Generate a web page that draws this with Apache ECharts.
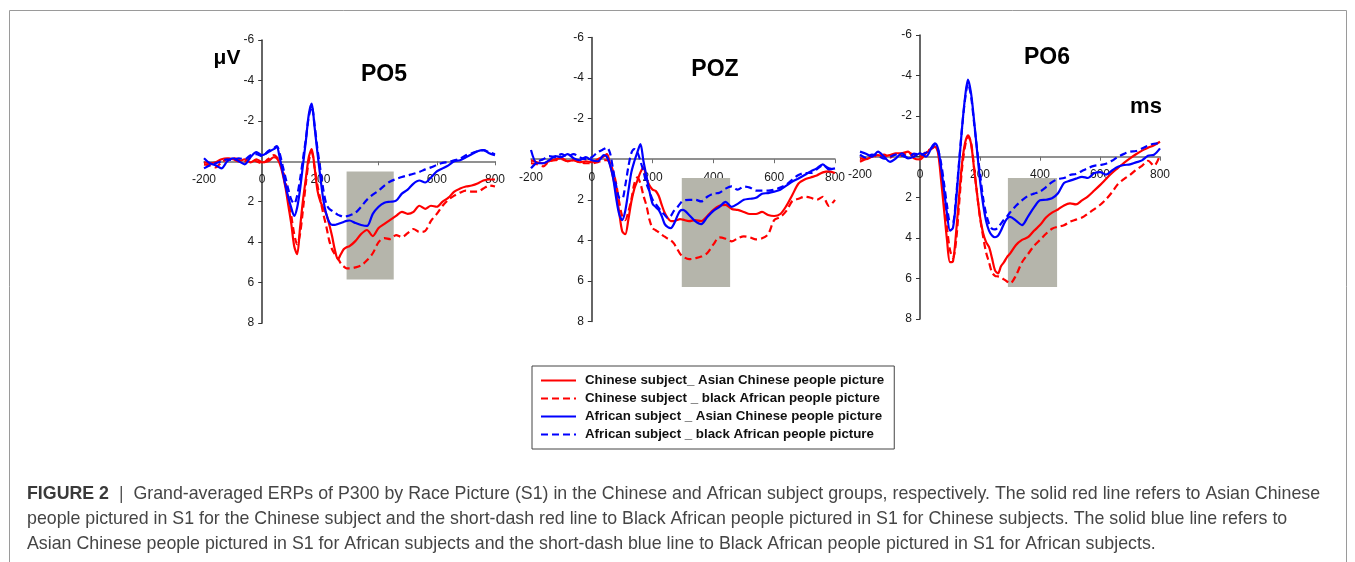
<!DOCTYPE html>
<html>
<head>
<meta charset="utf-8">
<script src="https://cdn.jsdelivr.net/npm/echarts@6.0.0/dist/echarts.min.js"></script>
<style>
html,body{margin:0;padding:0;background:#fff;}
#chart{width:1355px;height:562px;}
</style>
</head>
<body>
<div id="chart"></div>
<script>
// ---------- data ----------
const timeMs = [-200,-180,-160,-140,-120,-100,-80,-60,-40,-20,0,20,40,
  50,60,70,80,90,100,110,120,130,140,150,160,170,180,190,200,210,220,230,240,250,260,270,280,290,300,
  320,340,360,380,400,420,440,460,480,500,520,540,560,580,600,620,640,660,680,700,720,740,760,780,800];

const panelTitles = ['PO5', 'POZ', 'PO6'];
const legendNames = [
  'Chinese subject_ Asian Chinese people picture',
  'Chinese subject _ black African people picture',
  'African subject _ Asian Chinese people picture',
  'African subject _ black African people picture'
];

// PO5
const po5CnAsian = [0.05,0.1,0.05,-0.1,-0.15,-0.1,0,-0.1,0.05,-0.1,0.05,0,-0.2,
  -0.15,0.1,0.6,1.3,2.2,3.1,4.2,4.6,3.3,1.95,0.85,-0.2,-0.6,0.3,1.45,2.0,2.3,2.6,3.1,3.7,4.4,4.85,4.6,4.35,4.25,4.2,
  3.95,3.6,3.4,3.7,3.3,3.1,2.9,2.7,2.5,2.6,2.5,2.2,2.35,2.2,2.25,2.0,1.8,1.5,1.35,1.25,1.2,1.1,0.95,0.9,0.9];
const po5CnAfrican = [0.15,0.2,0.3,0.05,-0.1,-0.15,-0.1,0,-0.15,0,0.1,-0.1,-0.3,
  -0.2,0.0,0.4,1.0,1.8,2.7,3.6,4.1,3.6,2.4,1.1,0.0,-0.45,0.3,1.2,1.9,2.6,3.2,3.9,4.35,4.6,4.8,5.05,5.2,5.3,5.3,
  5.25,5.15,4.9,4.55,4.0,3.8,3.85,3.65,3.75,3.55,3.35,3.5,3.45,2.95,2.6,2.2,1.9,1.7,1.55,1.45,1.5,1.5,1.35,1.2,1.25];
const po5AfAsian = [-0.15,0.1,0.2,0.35,0,-0.15,0,0.15,-0.2,-0.45,-0.3,-0.45,-0.6,
  -0.7,-0.2,0.5,1.2,1.8,2.3,2.7,2.3,1.4,0.2,-1.0,-2.3,-2.85,-1.7,-0.4,0.8,1.9,2.6,3.0,3.15,3.15,3.1,3.05,3.0,2.95,2.93,
  3.05,3.15,3.2,2.6,2.25,2.05,2.0,1.95,1.6,1.4,1.1,0.95,1.05,0.8,0.5,0.35,0.2,0,-0.05,-0.2,-0.35,-0.5,-0.55,-0.4,-0.3];
const po5AfAfrican = [0.35,0.2,0.1,0,-0.1,-0.05,-0.15,-0.1,-0.3,-0.35,-0.25,-0.5,-0.65,
  -0.75,-0.4,0.2,0.8,1.4,1.9,2.1,1.7,0.9,-0.1,-1.1,-2.2,-2.7,-1.8,-0.6,0.4,1.4,2.1,2.35,2.45,2.55,2.65,2.7,2.75,2.72,2.68,
  2.55,2.25,1.9,1.65,1.45,1.2,1.0,0.88,0.78,0.7,0.62,0.53,0.4,0.3,0.18,0.08,0.03,-0.05,-0.12,-0.3,-0.4,-0.5,-0.55,-0.45,-0.35];

// POZ
const pozCnAsian = [0.05,0.15,0.2,0.1,0,-0.05,0.1,0.05,0.15,0.1,0.15,0,-0.15,
  -0.25,0.25,0.9,1.6,2.6,3.55,3.7,3.0,2.1,1.45,1.05,0.65,0.4,0.95,1.3,1.5,1.56,1.8,2.25,2.65,2.9,3.05,3.05,3.0,2.95,2.98,
  3.05,3.0,3.05,2.8,2.5,2.3,2.25,2.45,2.5,2.6,2.7,2.7,2.6,2.75,2.8,2.7,2.3,1.75,1.2,1.0,0.9,0.8,0.65,0.6,0.68];
const pozCnAfrican = [0.2,0.25,0.35,0.1,0.05,0,0.1,0.05,0.15,0.2,0.2,0.15,0.05,
  0.05,0.2,0.6,1.2,2.1,2.8,3.0,2.6,2.0,1.2,0.9,1.2,1.8,2.3,3.0,3.4,3.5,3.6,3.72,3.82,3.92,4.0,4.15,4.4,4.65,4.8,
  4.93,4.88,4.8,4.62,4.2,3.85,3.92,4.05,3.9,3.8,3.85,3.95,3.9,3.7,3.0,2.85,2.55,2.05,1.95,1.85,1.9,2.0,1.85,2.3,2.0];
const pozAfAsian = [-0.45,0.2,0.2,0.05,-0.15,-0.1,-0.25,-0.05,0.05,-0.1,0.05,0.1,-0.2,
  -0.1,0.3,0.9,1.9,2.7,3.0,2.55,1.6,0.65,0.1,-0.35,-0.75,0.1,0.85,1.6,2.2,2.35,2.5,2.8,3.2,3.35,3.4,3.2,2.85,2.55,2.5,
  2.75,3.05,3.2,2.85,2.55,2.35,2.1,2.35,2.2,2.0,1.95,1.9,1.7,1.67,1.6,1.5,1.3,1.1,0.95,0.78,0.6,0.45,0.25,0.5,0.45];
const pozAfAfrican = [0.45,0.15,0,-0.15,-0.1,-0.25,-0.15,-0.25,-0.1,0,-0.1,-0.35,-0.5,
  -0.57,-0.3,0.5,1.3,1.9,1.95,1.3,0.4,-0.3,-0.5,-0.35,0.1,0.6,1.2,1.6,2.0,2.2,2.4,2.6,2.75,2.9,2.8,2.55,2.4,2.2,2.05,
  2.0,2.0,2.08,1.85,1.7,1.65,1.45,1.34,1.5,1.35,1.4,1.55,1.55,1.55,1.5,1.4,1.25,1.0,0.78,0.68,0.68,0.5,0.3,0.45,0.5];

// PO6
const po6CnAsian = [0.08,0.12,0,-0.08,-0.03,-0.08,-0.17,-0.17,-0.25,0.08,0.13,-0.17,-0.41,
  -0.5,-0.2,1.1,2.6,4.1,5.2,5.15,3.8,2.0,0.35,-0.66,-1.05,-0.65,0.55,1.8,2.95,3.75,4.2,4.45,5.0,5.6,5.75,5.4,5.2,4.95,4.78,
  4.35,4.1,3.97,3.65,3.37,3.0,2.76,2.6,2.4,2.3,2.35,2.15,1.95,1.68,1.4,1.1,0.8,0.55,0.3,0.08,-0.12,-0.3,-0.44,-0.57,-0.74];
const po6CnAfrican = [0.25,0.1,-0.08,0,-0.1,0.05,-0.15,-0.05,-0.2,-0.1,0,-0.25,-0.41,
  -0.5,-0.3,0.6,2.0,3.5,4.6,5.0,4.2,2.4,0.6,-0.5,-1.0,-0.7,0.5,1.8,3.0,3.9,4.7,5.2,5.7,5.87,5.9,5.95,6.05,6.15,6.25,
  5.85,5.2,4.8,4.4,4.1,3.8,3.55,3.45,3.38,3.2,3.1,3.0,2.8,2.6,2.38,2.1,1.75,1.35,1.1,0.9,0.65,0.45,0.2,0.45,-0.08];
const po6AfAsian = [-0.25,-0.15,0,-0.25,0,0.25,0.08,-0.17,0.08,0,-0.17,0,-0.5,
  -0.66,-0.4,0.5,1.65,2.8,3.64,3.5,2.2,0.4,-1.4,-2.9,-3.8,-3.15,-1.82,-0.33,1.16,2.31,3.14,3.64,3.88,3.97,3.9,3.64,3.3,3.06,2.97,
  3.15,3.37,2.95,2.5,2.15,2.12,2.05,1.8,1.3,1.18,1.08,0.99,1.05,0.82,0.76,0.88,0.68,0.5,0.41,0.38,0.28,0.18,-0.05,-0.1,-0.41];
const po6AfAfrican = [-0.1,0.05,-0.1,-0.05,0.1,0,-0.1,-0.05,0.05,-0.15,-0.1,-0.2,-0.45,
  -0.6,-0.35,0.3,1.3,2.4,3.2,3.2,2.0,0.3,-1.4,-2.8,-3.6,-3.0,-1.7,-0.4,0.83,2.0,2.8,3.3,3.55,3.58,3.5,3.3,3.1,2.95,2.75,
  2.42,2.15,1.93,1.82,1.72,1.5,1.25,1.1,1.05,0.9,0.85,0.7,0.56,0.45,0.41,0.35,0.2,0,-0.14,-0.25,-0.28,-0.4,-0.55,-0.64,-0.66];

// shaded P300 windows per panel: [startMs, endMs], [topUv, bottomUv]
const shadeMs = [[290, 452], [296, 455], [293, 457]];
const shadeUv = [[0.5, 5.85], [0.93, 6.3], [1.05, 6.42]];

const captionLines = [
  'Grand-averaged ERPs of P300 by Race Picture (S1) in the Chinese and African subject groups, respectively. The solid red line refers to Asian Chinese',
  'people pictured in S1 for the Chinese subject and the short-dash red line to Black African people pictured in S1 for Chinese subjects. The solid blue line refers to',
  'Asian Chinese people pictured in S1 for African subjects and the short-dash blue line to Black African people pictured in S1 for African subjects.'
];

// ---------- chart ----------
const panelData = [
  [po5CnAsian, po5CnAfrican, po5AfAsian, po5AfAfrican],
  [pozCnAsian, pozCnAfrican, pozAfAsian, pozAfAfrican],
  [po6CnAsian, po6CnAfrican, po6AfAsian, po6AfAfrican]
];
const lineColors = ['#ff0000', '#ff0000', '#0000ff', '#0000ff'];
const lineTypes = ['solid', [7, 4], 'solid', [7, 4]];

const grids = [
  {left: 204, top: 40, width: 291, height: 283},
  {left: 531, top: 37.5, width: 304, height: 284},
  {left: 860, top: 35, width: 300, height: 284}
];
const titlePos = [[384, 75], [715, 70], [1047, 58]];

const FONT = 'Arial, "Liberation Sans", sans-serif';

function makeXAxes(offsets) {
  return grids.map((g, i) => ({
    type: 'value', gridIndex: i, min: -200, max: 800, interval: 200, position: 'bottom',
    offset: offsets ? offsets[i] : 0,
    axisLine: {show: true, onZero: false, lineStyle: {color: '#6e6e6e', width: 1.5}},
    axisTick: {show: true, length: 4, lineStyle: {color: '#6e6e6e', width: 1}},
    axisLabel: {margin: 12, fontSize: 12, color: '#1a1a1a', fontFamily: FONT, showMinLabel: true, showMaxLabel: true},
    splitLine: {show: false}
  }));
}
function makeYAxes(offsets) {
  return grids.map((g, i) => ({
    type: 'value', gridIndex: i, inverse: true, min: -6, max: 8, interval: 2, position: 'left',
    offset: offsets ? offsets[i] : 0,
    axisLine: {show: true, onZero: false, lineStyle: {color: '#333', width: 1.5}},
    axisTick: {show: true, length: 4, lineStyle: {color: '#333', width: 1}},
    axisLabel: {margin: 8, fontSize: 12, color: '#1a1a1a', fontFamily: FONT,
      formatter: v => (v === 0 ? '' : String(v))},
    splitLine: {show: false}
  }));
}

const series = [];
panelData.forEach((arrs, p) => {
  series.push({
    type: 'line', name: 'window' + p, xAxisIndex: p, yAxisIndex: p, data: [], z: 1,
    silent: true,
    markArea: {
      silent: true,
      itemStyle: {color: '#b5b5ab', opacity: 1},
      data: [[{xAxis: shadeMs[p][0], yAxis: shadeUv[p][0]}, {xAxis: shadeMs[p][1], yAxis: shadeUv[p][1]}]]
    }
  });
  arrs.forEach((arr, k) => {
    series.push({
      type: 'line', name: legendNames[k], xAxisIndex: p, yAxisIndex: p,
      data: timeMs.map((t, i) => [t, arr[i]]),
      symbol: 'none', showSymbol: false, smooth: 0.3, z: 3 + k,
      lineStyle: {color: lineColors[k], width: 2.2, type: lineTypes[k]},
      itemStyle: {color: lineColors[k]}
    });
  });
});

function centered(t, font) {
  return {text: t, font: font, fill: '#000', align: 'center', verticalAlign: 'middle', textAlign: 'center', textVerticalAlign: 'middle'};
}
const graphics = [
  {type: 'rect', silent: true, shape: {x: 9.5, y: 10.5, width: 1337, height: 600},
   style: {fill: 'none', stroke: '#9a9a9a', lineWidth: 1}},
  {type: 'text', x: 227, y: 58, silent: true, style: centered('μV', 'bold 21px ' + FONT)},
  {type: 'text', x: 1146, y: 107, silent: true, style: centered('ms', 'bold 22px ' + FONT)}
];
panelTitles.forEach((t, i) => {
  graphics.push({type: 'text', x: titlePos[i][0], y: titlePos[i][1], silent: true, style: centered(t, 'bold 23px ' + FONT)});
});
const capY = [494, 519, 544];
const capFont = '17.8px ' + FONT;
captionLines.forEach((line, i) => {
  const txt = i === 0 ? '{b|FIGURE 2}{bar|  |  }' + line : line;
  graphics.push({type: 'text', x: 27, y: capY[i], silent: true,
    style: {text: txt, font: capFont, fill: '#454545', align: 'left', verticalAlign: 'middle', textAlign: 'left', textVerticalAlign: 'middle',
      rich: {b: {font: 'bold ' + capFont, fill: '#3a3a3a'}, bar: {font: capFont, fill: '#555'}}}});
});

const chart = echarts.init(document.getElementById('chart'), null, {renderer: 'canvas'});
const baseOption = {
  animation: false,
  backgroundColor: '#fff',
  grid: grids.map(g => Object.assign({containLabel: false, outerBoundsMode: 'none'}, g)),
  xAxis: makeXAxes(null),
  yAxis: makeYAxes(null),
  legend: {
    data: legendNames,
    orient: 'vertical', left: 532, top: 366,
    itemWidth: 35, itemHeight: 14, itemGap: 5,
    padding: [8, 10, 8, 8],
    borderColor: '#444', borderWidth: 1, borderRadius: 0,
    selectedMode: false,
    itemStyle: {opacity: 0, color: 'rgba(0,0,0,0)', borderWidth: 0},
    textStyle: {fontWeight: 'bold', fontSize: 13.3, color: '#111', fontFamily: FONT, padding: [0, 0, 0, 4]}
  },
  series: series,
  graphic: graphics
};
chart.setOption(baseOption);

// move each axis onto the other axis' zero, using the library's own scales
const xOff = [], yOff = [];
grids.forEach((g, i) => {
  const zeroX = chart.convertToPixel({xAxisIndex: i}, 0);
  const zeroY = chart.convertToPixel({yAxisIndex: i}, 0);
  yOff.push(g.left - zeroX);
  xOff.push(zeroY - (g.top + g.height));
});
chart.setOption({xAxis: makeXAxes(xOff), yAxis: makeYAxes(yOff)});
</script>
</body>
</html>
